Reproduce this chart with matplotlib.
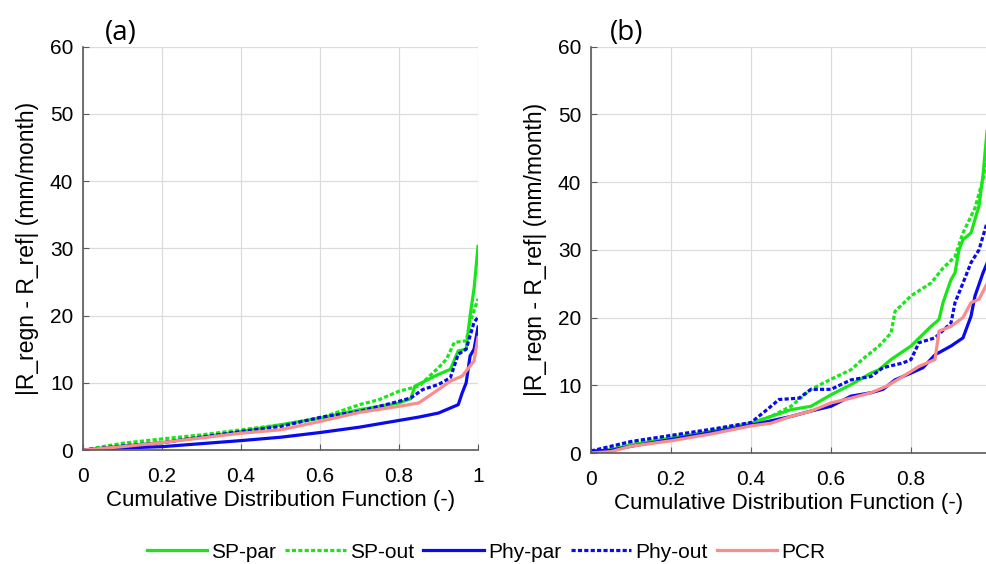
import numpy as np
import matplotlib.pyplot as plt

# CDF abscissae and absolute runoff errors (mm/month) for each method
# panel (a)
a_sp_par_x = [0, 0.1, 0.2, 0.4, 0.6, 0.7, 0.8, 0.83, 0.84, 0.9, 0.93, 0.95, 0.97, 0.98, 0.99, 1.0]
a_sp_par_y = [0, 0.6, 1.1, 2.75, 4.75, 6.0, 7.0, 7.65, 9.5, 11.25, 12.0, 14.75, 15.0, 20.0, 24.0, 30.3]
a_sp_out_x = [0, 0.1, 0.2, 0.3, 0.4, 0.5, 0.6, 0.65, 0.7, 0.75, 0.8, 0.85, 0.9, 0.92, 0.94, 0.97, 0.98, 1.0]
a_sp_out_y = [0, 1.0, 1.65, 2.25, 3.0, 3.75, 4.75, 5.75, 6.75, 7.5, 8.75, 9.5, 12.25, 13.5, 16.0, 16.25, 19.0, 22.5]
a_phy_par_x = [0, 0.1, 0.2, 0.4, 0.5, 0.6, 0.7, 0.8, 0.85, 0.9, 0.93, 0.95, 0.96, 0.97, 0.98, 0.99, 1.0]
a_phy_par_y = [0, 0.3, 0.5, 1.4, 1.9, 2.6, 3.4, 4.4, 4.9, 5.5, 6.25, 6.75, 8.5, 10.0, 14.0, 15.0, 18.3]
a_phy_out_x = [0, 0.1, 0.2, 0.4, 0.5, 0.6, 0.7, 0.8, 0.83, 0.86, 0.9, 0.93, 0.95, 0.97, 0.99, 1.0]
a_phy_out_y = [0, 0.6, 1.1, 2.75, 3.5, 4.85, 5.75, 7.25, 7.75, 9.0, 9.75, 10.75, 14.25, 15.0, 19.0, 19.75]
a_pcr_x = [0, 0.1, 0.2, 0.4, 0.5, 0.6, 0.7, 0.8, 0.85, 0.9, 0.93, 0.96, 0.98, 0.99, 1.0]
a_pcr_y = [0, 0.5, 1.1, 2.5, 3.0, 4.25, 5.6, 6.5, 7.0, 9.0, 10.25, 11.0, 12.5, 13.25, 16.75]

# panel (b)
b_sp_par_x = [0, 0.05, 0.1, 0.2, 0.3, 0.4, 0.45, 0.5, 0.55, 0.6, 0.65, 0.7, 0.72, 0.75, 0.8, 0.85,
              0.87, 0.88, 0.9, 0.91, 0.92, 0.93, 0.95, 0.97, 0.98, 0.99]
b_sp_par_y = [0, 0.5, 1.2, 2.2, 3.2, 4.4, 5.4, 6.4, 6.9, 8.6, 10.1, 11.8, 12.3, 13.8, 15.8, 18.7,
              19.7, 22.2, 25.6, 26.6, 30.0, 31.5, 32.5, 36.5, 41.0, 47.5]
b_sp_out_x = [0, 0.1, 0.2, 0.3, 0.4, 0.45, 0.5, 0.55, 0.6, 0.65, 0.68, 0.72, 0.75, 0.76, 0.8, 0.85,
              0.88, 0.91, 0.93, 0.96, 0.98, 0.99]
b_sp_out_y = [0, 1.5, 2.4, 3.3, 4.4, 5.4, 6.9, 9.4, 10.9, 12.3, 13.9, 15.8, 17.7, 20.9, 23.2, 25.1,
              27.3, 29.0, 32.5, 36.2, 40.4, 44.0]
b_phy_par_x = [0, 0.05, 0.1, 0.2, 0.3, 0.4, 0.5, 0.55, 0.6, 0.65, 0.7, 0.73, 0.76, 0.8, 0.83, 0.86,
               0.9, 0.93, 0.95, 0.96, 0.98, 0.99]
b_phy_par_y = [0.3, 0.4, 1.0, 2.0, 3.0, 4.1, 5.4, 6.2, 6.9, 8.4, 8.9, 9.4, 10.8, 11.8, 12.6, 14.5,
               15.8, 17.0, 20.2, 23.2, 26.6, 28.0]
b_phy_out_x = [0, 0.1, 0.2, 0.3, 0.4, 0.44, 0.47, 0.52, 0.55, 0.6, 0.65, 0.7, 0.73, 0.78, 0.8, 0.82,
               0.86, 0.9, 0.91, 0.93, 0.95, 0.97, 0.99]
b_phy_out_y = [0.3, 1.7, 2.6, 3.5, 4.5, 6.4, 7.9, 8.1, 9.4, 9.4, 10.8, 11.3, 12.6, 13.3, 13.8, 16.3,
               17.0, 19.2, 22.2, 25.1, 28.1, 30.0, 34.0]
b_pcr_x = [0, 0.05, 0.1, 0.2, 0.3, 0.4, 0.45, 0.5, 0.55, 0.6, 0.65, 0.7, 0.74, 0.78, 0.82, 0.86,
           0.87, 0.9, 0.93, 0.95, 0.97, 0.99]
b_pcr_y = [0, 0.2, 1.0, 1.8, 2.8, 4.0, 4.4, 5.4, 6.2, 7.4, 8.1, 8.9, 9.9, 11.3, 12.8, 13.8,
           18.0, 18.7, 20.0, 22.2, 22.7, 25.0]

labels = ['SP-par', 'SP-out', 'Phy-par', 'Phy-out', 'PCR']
colors = ['#19e619', '#19e619', '#0a0aef', '#0a0aef', '#fb8c8c']
dotted = [False, True, False, True, False]

x_ticks = [0, 0.2, 0.4, 0.6, 0.8, 1.0]
x_ticklabels = ['0', '0.2', '0.4', '0.6', '0.8', '1']
y_ticks = [0, 10, 20, 30, 40, 50, 60]

plt.rcParams['font.family'] = ['Liberation Sans', 'DejaVu Sans']

fig = plt.figure(figsize=(9.87, 5.64), dpi=100)
ax_a = fig.add_axes([0.0841, 0.2021, 0.4002, 0.7151])
ax_b = fig.add_axes([0.5988, 0.1968, 0.4012, 0.7204])

panels = [
    (ax_a, '(a)', 0.056, 1.0,
     [(a_sp_par_x, a_sp_par_y), (a_sp_out_x, a_sp_out_y), (a_phy_par_x, a_phy_par_y),
      (a_phy_out_x, a_phy_out_y), (a_pcr_x, a_pcr_y)]),
    (ax_b, '(b)', 0.048, 0.99,
     [(b_sp_par_x, b_sp_par_y), (b_sp_out_x, b_sp_out_y), (b_phy_par_x, b_phy_par_y),
      (b_phy_out_x, b_phy_out_y), (b_pcr_x, b_pcr_y)]),
]

handles = []
for ax, tag, tag_x, xmax, series in panels:
    handles = []
    for (xs, ys), lab, col, dot in zip(series, labels, colors, dotted):
        line, = ax.plot(xs, ys, color=col, lw=2.3, label=lab)
        if dot:
            line.set_dashes((1.3, 0.7))
        handles.append(line)

    ax.set_xlim(0, xmax)
    ax.set_ylim(0, 60)
    ax.set_xticks([t for t in x_ticks if t <= xmax])
    ax.set_xticklabels([l for t, l in zip(x_ticks, x_ticklabels) if t <= xmax])
    ax.set_yticks(y_ticks)
    ax.grid(True, color='#dcdcdc', lw=0.9)
    ax.set_axisbelow(True)
    for s in ['top', 'right']:
        ax.spines[s].set_visible(False)
    for s in ['left', 'bottom']:
        ax.spines[s].set_color('#5a5a5a')
        ax.spines[s].set_linewidth(1.2)
    ax.tick_params(direction='in', length=4, color='#5a5a5a', labelsize=15, pad=7)
    ax.tick_params(axis='x', pad=12)
    ax.set_xlabel('Cumulative Distribution Function (-)', fontsize=16, labelpad=3)
    ax.set_ylabel('|R_regn - R_ref| (mm/month)', fontsize=16.5, labelpad=8)
    ax.text(tag_x, 1.0, tag, transform=ax.transAxes, fontsize=20,
            family=['Open Sans', 'DejaVu Sans'], ha='left', va='bottom')

fig.legend(handles, labels, loc='center', bbox_to_anchor=(0.4925, 0.021), ncol=5,
           frameon=False, fontsize=15, handlelength=2.9, columnspacing=0.45,
           handletextpad=0.2, borderpad=0.1)

fig.savefig('out.png', dpi=100)
